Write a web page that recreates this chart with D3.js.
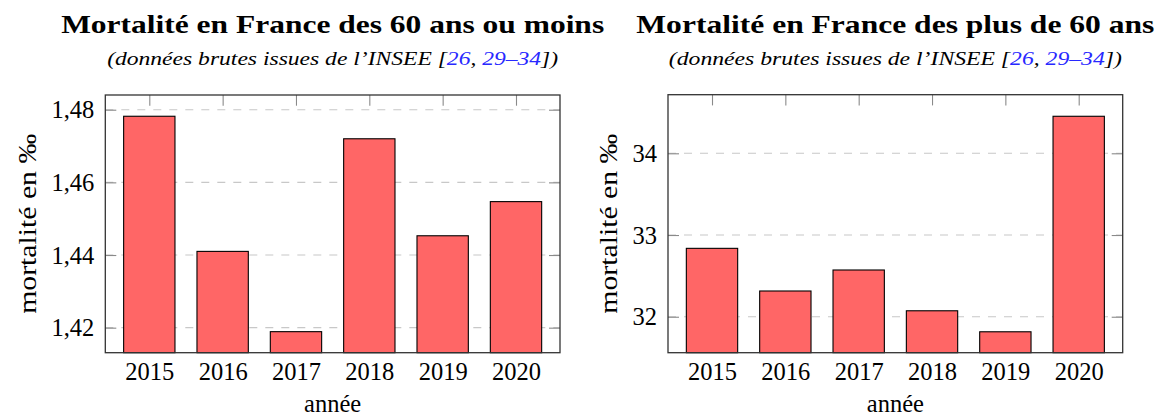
<!DOCTYPE html>
<html>
<head>
<meta charset="utf-8">
<script src="https://cdn.jsdelivr.net/npm/d3@7"></script>
<style>
  html, body { margin: 0; padding: 0; background: #fff; }
  svg { display: block; }
  text { font-family: 'Liberation Serif', 'DejaVu Serif', serif; fill: #000; }
</style>
</head>
<body>
<svg id="chart" width="1157" height="418"></svg>
<script>
// ---- data ----
const years = [2015, 2016, 2017, 2018, 2019, 2020];
const mortalityUnder60 = [1.4782, 1.4410, 1.4189, 1.4720, 1.4453, 1.4547];
const mortalityOver60 = [32.837, 32.315, 32.572, 32.073, 31.816, 34.453];
const ticksUnder60 = [1.42, 1.44, 1.46, 1.48];
const ticksOver60 = [32, 33, 34];
const titles = ["Mortalité en France des 60 ans ou moins", "Mortalité en France des plus de 60 ans"];
const subtitleParts = ["(données brutes issues de l’INSEE [", "26", ", ", "29–34", "])"];
const xLabel = "année";
const yLabel = "mortalité en ‰";

const svg = d3.select("#chart");
const BLUE = "rgb(40,40,255)";

const panels = [
  { values: mortalityUnder60, ticks: ticksUnder60, fmt: d => d3.format(".2f")(d).replace(".", ","),
    left: 105.3, right: 560, top: 95, bottom: 352.7, ydom: [1.41311, 1.48405],
    title: titles[0], titleW: 543, subW: 451, ylabX: 36 },
  { values: mortalityOver60, ticks: ticksOver60, fmt: d3.format("d"),
    left: 668, right: 1122.7, top: 94.7, bottom: 352.7, ydom: [31.56, 34.717],
    title: titles[1], titleW: 518, subW: 453, ylabX: 617 }
];

panels.forEach(p => {
  const g = svg.append("g");
  const x = d3.scaleLinear().domain([years[0] - 0.6, years[years.length - 1] + 0.6]).range([p.left, p.right]);
  const y = d3.scaleLinear().domain(p.ydom).range([p.bottom, p.top]);
  const cx = (p.left + p.right) / 2;
  const barW = x(0.7) - x(0);

  // grid
  g.append("g").selectAll("line").data(p.ticks).join("line")
    .attr("x1", p.left).attr("x2", p.right)
    .attr("y1", d => y(d)).attr("y2", d => y(d))
    .attr("stroke", "#c8c8c8").attr("stroke-width", 1.1)
    .attr("stroke-dasharray", "8,8");

  // inner ticks left/right/top/bottom
  const axL = g.append("g").attr("transform", `translate(${p.left},0)`)
    .call(d3.axisLeft(y).tickValues(p.ticks).tickFormat(p.fmt).tickSize(-11).tickPadding(11));
  const axR = g.append("g").attr("transform", `translate(${p.right},0)`)
    .call(d3.axisRight(y).tickValues(p.ticks).tickFormat("").tickSize(-11));
  const axT = g.append("g").attr("transform", `translate(0,${p.top})`)
    .call(d3.axisTop(x).tickValues(years).tickFormat("").tickSize(-10.7));
  const axB = g.append("g").attr("transform", `translate(0,${p.bottom})`)
    .call(d3.axisBottom(x).tickValues(years).tickFormat(d3.format("d")).tickSize(-10.7));
  [axL, axR, axT, axB].forEach(a => {
    a.select(".domain").remove();
    a.selectAll(".tick line").attr("stroke", "#8a8a8a").attr("stroke-width", 1.1);
    a.attr("font-family", null).attr("font-size", null);
    a.selectAll("text").attr("font-size", "24.5px").attr("fill", "#000");
  });
  axL.selectAll("text").attr("dy", null).attr("y", 8);
  axB.selectAll("text").attr("dy", null).attr("y", 27.3);

  // bars
  g.append("g").selectAll("rect").data(p.values).join("rect")
    .attr("x", (d, i) => x(years[i]) - barW / 2)
    .attr("width", barW)
    .attr("y", d => y(d))
    .attr("height", d => p.bottom - y(d))
    .attr("fill", "#ff6666")
    .attr("stroke", "#000").attr("stroke-width", 1.1);

  // frame
  g.append("rect").attr("x", p.left).attr("y", p.top)
    .attr("width", p.right - p.left).attr("height", p.bottom - p.top)
    .attr("fill", "none").attr("stroke", "#333").attr("stroke-width", 1.3);

  // title
  g.append("text").attr("x", cx).attr("y", 33).attr("text-anchor", "middle")
    .attr("font-weight", "bold").attr("font-size", "25.5px")
    .attr("textLength", p.titleW).attr("lengthAdjust", "spacingAndGlyphs")
    .text(p.title);

  // subtitle
  const st = g.append("text").attr("x", cx).attr("y", 65).attr("text-anchor", "middle")
    .attr("font-style", "italic").attr("font-size", "18px")
    .attr("textLength", p.subW).attr("lengthAdjust", "spacingAndGlyphs");
  subtitleParts.forEach((s, i) => {
    st.append("tspan").attr("fill", (i === 1 || i === 3) ? BLUE : "#000").text(s);
  });

  // axis labels
  g.append("text").attr("x", cx).attr("y", 412).attr("text-anchor", "middle")
    .attr("font-size", "24.5px").text(xLabel);
  g.append("text")
    .attr("transform", `translate(${p.ylabX},${(p.top + p.bottom) / 2}) rotate(-90)`)
    .attr("text-anchor", "middle").attr("font-size", "24.5px")
    .attr("textLength", 180).attr("lengthAdjust", "spacingAndGlyphs")
    .text(yLabel);
});
</script>
</body>
</html>
